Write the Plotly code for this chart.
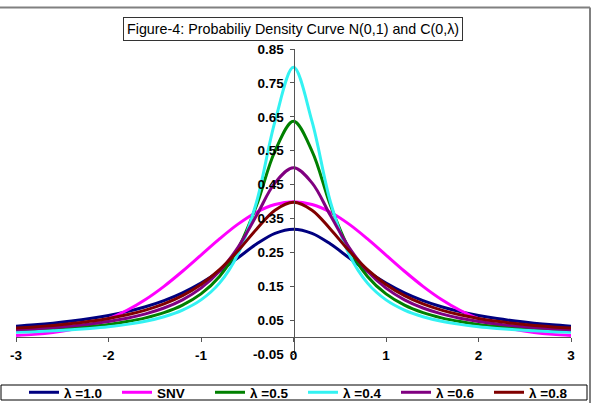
import plotly.graph_objects as go

x_vals = [-3.0, -2.8, -2.6, -2.4, -2.2, -2.0, -1.8, -1.6, -1.4, -1.2, -1.0, -0.8, -0.6, -0.4, -0.2,
          0.0, 0.2, 0.4, 0.6, 0.8, 1.0, 1.2, 1.4, 1.6, 1.8, 2.0, 2.2, 2.4, 2.6, 2.8, 3.0]

lam_1_0 = [0.0318, 0.0360, 0.0410, 0.0471, 0.0545, 0.0637, 0.0751, 0.0894, 0.1075, 0.1305, 0.1592,
           0.1941, 0.2341, 0.2744, 0.3061, 0.3183, 0.3061, 0.2744, 0.2341, 0.1941, 0.1592, 0.1305,
           0.1075, 0.0894, 0.0751, 0.0637, 0.0545, 0.0471, 0.0410, 0.0360, 0.0318]
snv = [0.0044, 0.0079, 0.0136, 0.0224, 0.0355, 0.0540, 0.0790, 0.1109, 0.1497, 0.1942, 0.2420,
       0.2897, 0.3332, 0.3683, 0.3910, 0.3989, 0.3910, 0.3683, 0.3332, 0.2897, 0.2420, 0.1942,
       0.1497, 0.1109, 0.0790, 0.0540, 0.0355, 0.0224, 0.0136, 0.0079, 0.0044]
lam_0_5 = [0.0172, 0.0197, 0.0227, 0.0265, 0.0313, 0.0374, 0.0456, 0.0566, 0.0720, 0.0942, 0.1273,
           0.1788, 0.2609, 0.3882, 0.5488, 0.6366, 0.5488, 0.3882, 0.2609, 0.1788, 0.1273, 0.0942,
           0.0720, 0.0566, 0.0456, 0.0374, 0.0313, 0.0265, 0.0227, 0.0197, 0.0172]
lam_0_4 = [0.0139, 0.0159, 0.0184, 0.0215, 0.0255, 0.0306, 0.0374, 0.0468, 0.0601, 0.0796, 0.1098,
           0.1592, 0.2449, 0.3979, 0.6366, 0.7958, 0.6366, 0.3979, 0.2449, 0.1592, 0.1098, 0.0796,
           0.0601, 0.0468, 0.0374, 0.0306, 0.0255, 0.0215, 0.0184, 0.0159, 0.0139]
lam_0_6 = [0.0216, 0.0246, 0.0283, 0.0329, 0.0387, 0.0460, 0.0556, 0.0684, 0.0857, 0.1099, 0.1443,
           0.1939, 0.2648, 0.3584, 0.4549, 0.4998, 0.4549, 0.3584, 0.2648, 0.1939, 0.1443, 0.1099,
           0.0857, 0.0684, 0.0556, 0.0460, 0.0387, 0.0329, 0.0283, 0.0246, 0.0216]
lam_0_8 = [0.0264, 0.0300, 0.0344, 0.0398, 0.0465, 0.0549, 0.0656, 0.0796, 0.0979, 0.1224, 0.1553,
           0.1989, 0.2546, 0.3183, 0.3745, 0.3979, 0.3745, 0.3183, 0.2546, 0.1989, 0.1553, 0.1224,
           0.0979, 0.0796, 0.0656, 0.0549, 0.0465, 0.0398, 0.0344, 0.0300, 0.0264]

series_names = ["λ =1.0", "SNV", "λ =0.5", "λ =0.4", "λ =0.6", "λ =0.8"]
series_values = [lam_1_0, snv, lam_0_5, lam_0_4, lam_0_6, lam_0_8]
series_colors = ["#000080", "#FF00FF", "#008000", "#33F2F2", "#800080", "#800000"]

x_ticks = [-3, -2, -1, 0, 1, 2, 3]
x_tick_labels = ["-3", "-2", "-1", "0", "1", "2", "3"]
y_ticks = [-0.05, 0.05, 0.15, 0.25, 0.35, 0.45, 0.55, 0.65, 0.75, 0.85]
y_tick_labels = ["-0.05", "0.05", "0.15", "0.25", "0.35", "0.45", "0.55", "0.65", "0.75", "0.85"]

FONT = "Arial, Liberation Sans, sans-serif"

# plot area in pixels: x 16..571, y 49..354 (figure 592x403)
L, R, T, B = 16, 571, 49, 354
PW, PH = R - L, B - T


def px(xp):
    return (xp - L) / PW


def py(yp):
    return (B - yp) / PH


fig = go.Figure()
for name, vals, col in zip(series_names, series_values, series_colors):
    fig.add_trace(go.Scatter(
        x=x_vals, y=vals, name=name, mode="lines",
        line=dict(color=col, width=3, shape="spline", smoothing=1.0),
        hoverinfo="skip",
    ))

fig.update_layout(
    width=592, height=403,
    margin=dict(l=L, r=592 - R, t=T, b=403 - B, autoexpand=False),
    paper_bgcolor="white", plot_bgcolor="white",
    font=dict(family=FONT, color="black"),
    showlegend=True,
    legend=dict(
        orientation="h", xref="paper", yref="paper",
        x=px(24), xanchor="left", y=py(392.5), yanchor="middle",
        borderwidth=0, bgcolor="rgba(0,0,0,0)",
        font=dict(family=FONT, size=13.5, color="black", weight="bold"),
        entrywidth=48, entrywidthmode="pixels", itemwidth=30,
        tracegroupgap=0,
    ),
    xaxis=dict(
        range=[-3, 3], tickvals=x_ticks, ticktext=x_tick_labels,
        showgrid=False, zeroline=False,
        showline=True, linecolor="#555555", linewidth=1,
        ticks="outside", ticklen=4, tickcolor="#555555",
        anchor="free", position=0.05 / 0.9,
        ticklabelstandoff=2,
        tickfont=dict(family=FONT, size=13.5, color="black", weight="bold"),
        fixedrange=True,
    ),
    yaxis=dict(
        range=[-0.05, 0.85], tickvals=y_ticks, ticktext=y_tick_labels,
        showgrid=False, zeroline=False,
        showline=True, linecolor="#555555", linewidth=1,
        ticks="outside", ticklen=4, tickcolor="#555555",
        anchor="free", position=0.5,
        ticklabelstandoff=3,
        tickfont=dict(family=FONT, size=13.5, color="black", weight="bold"),
        fixedrange=True,
    ),
)

fig.add_annotation(
    text="Figure-4: Probabiliy Density Curve N(0,1) and C(0,λ)",
    xref="paper", yref="paper", x=px(292.5), y=py(29),
    xanchor="center", yanchor="middle", showarrow=False,
    font=dict(family=FONT, size=14.3, color="black"),
    bordercolor="#333333", borderwidth=1, borderpad=3, bgcolor="white",
)

# legend frame
fig.add_shape(type="rect", xref="paper", yref="paper",
              x0=px(1), x1=px(587), y0=py(400), y1=py(385),
              line=dict(color="black", width=1), fillcolor="rgba(0,0,0,0)")
# chart-area border (top and right edges)
fig.add_shape(type="line", xref="paper", yref="paper",
              x0=px(-5), x1=px(590), y0=py(7.5), y1=py(7.5),
              line=dict(color="#808080", width=2))
fig.add_shape(type="line", xref="paper", yref="paper",
              x0=px(590), x1=px(590), y0=py(7.5), y1=py(410),
              line=dict(color="#808080", width=2))

fig.write_html("out.html", config={"displayModeBar": False},
               post_script="document.body.style.margin='0px';")
